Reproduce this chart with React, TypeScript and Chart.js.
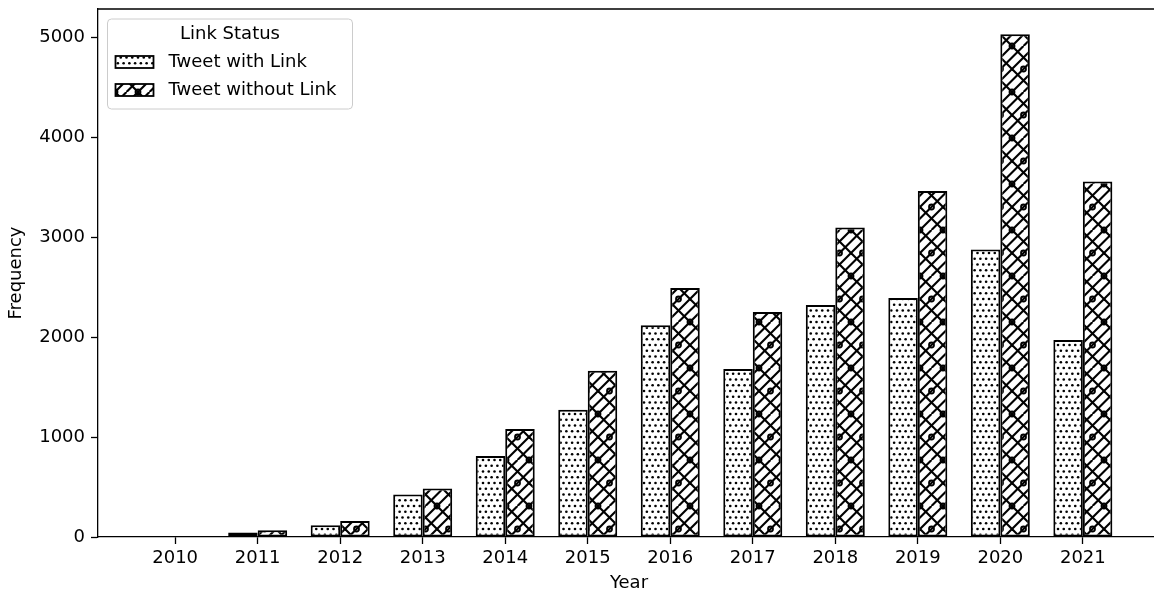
import React, { useEffect, useRef } from 'react';
import { Chart, registerables } from 'chart.js';

Chart.register(...registerables);

// Tweets per year, split by whether the tweet carries a link
const years = [2010, 2011, 2012, 2013, 2014, 2015, 2016, 2017, 2018, 2019, 2020, 2021];
const withLink = [9, 44, 117, 424, 810, 1274, 2117, 1680, 2320, 2390, 2877, 1970];
const withoutLink = [11, 67, 160, 484, 1080, 1664, 2490, 2250, 3097, 3460, 5030, 3557];
const yTicks = [0, 1000, 2000, 3000, 4000, 5000];
const seriesNames = ['Tweet with Link', 'Tweet without Link'];
const legendTitle = 'Link Status';
const xTitle = 'Year';
const yTitle = 'Frequency';

const FONT = "'DejaVu Sans', sans-serif";
const W = 1170;
const H = 597;

// Dense staggered dots on white
function makeDotPattern(ctx: CanvasRenderingContext2D): CanvasPattern {
  const size = 23;
  const c = document.createElement('canvas');
  c.width = size;
  c.height = size;
  const g = c.getContext('2d')!;
  g.fillStyle = '#fff';
  g.fillRect(0, 0, size, size);
  g.fillStyle = '#000';
  const step = size / 4;
  for (let r = 0; r <= 4; r++) {
    const y = r * step;
    const shift = r % 2 ? step / 2 : 0;
    for (let k = -1; k <= 5; k++) {
      const x = k * step + shift;
      g.beginPath();
      g.arc(x, y, 1.3, 0, Math.PI * 2);
      g.fill();
    }
  }
  return ctx.createPattern(c, 'repeat')!;
}

// Diagonal cross-hatch (denser "/" strokes) with small rings on white
function makeCrossPattern(ctx: CanvasRenderingContext2D): CanvasPattern {
  const w = 23;
  const h = 46;
  const c = document.createElement('canvas');
  c.width = w;
  c.height = h;
  const g = c.getContext('2d')!;
  g.fillStyle = '#fff';
  g.fillRect(0, 0, w, h);
  g.strokeStyle = '#000';
  g.lineWidth = 2.1;
  g.lineCap = 'butt';
  // "\" strokes
  for (let k = -3; k <= 2; k++) {
    g.beginPath();
    g.moveTo(k * w, 0);
    g.lineTo(k * w + h, h);
    g.stroke();
  }
  // "/" strokes at half spacing
  for (let k = 0; k <= 12; k++) {
    g.beginPath();
    g.moveTo(k * (w / 2), 0);
    g.lineTo(k * (w / 2) - h, h);
    g.stroke();
  }
  const rings = [
    [0, 0], [w, 0], [0, h], [w, h], [w / 2, h / 2],
  ];
  g.lineWidth = 1.8;
  for (const [x, y] of rings) {
    g.beginPath();
    g.arc(x, y, 2.5, 0, Math.PI * 2);
    g.stroke();
  }
  return ctx.createPattern(c, 'repeat')!;
}

const framePlugin = {
  id: 'frame',
  afterDatasetsDraw(chart: any) {
    const { ctx, chartArea } = chart;
    ctx.save();
    ctx.strokeStyle = '#000';
    ctx.lineWidth = 1.3;
    ctx.beginPath();
    ctx.moveTo(chartArea.left, chartArea.top);
    ctx.lineTo(chartArea.right, chartArea.top);
    ctx.lineTo(chartArea.right, chartArea.bottom);
    ctx.stroke();
    ctx.restore();
  },
};

const boxedLegend = {
  id: 'boxedLegend',
  afterDraw(chart: any) {
    const { ctx, chartArea } = chart;
    const x0 = chartArea.left + 9.5;
    const y0 = chartArea.top + 10;
    const bw = 245;
    const bh = 90;
    const r = 4;
    ctx.save();
    ctx.beginPath();
    ctx.moveTo(x0 + r, y0);
    ctx.lineTo(x0 + bw - r, y0);
    ctx.arcTo(x0 + bw, y0, x0 + bw, y0 + r, r);
    ctx.lineTo(x0 + bw, y0 + bh - r);
    ctx.arcTo(x0 + bw, y0 + bh, x0 + bw - r, y0 + bh, r);
    ctx.lineTo(x0 + r, y0 + bh);
    ctx.arcTo(x0, y0 + bh, x0, y0 + bh - r, r);
    ctx.lineTo(x0, y0 + r);
    ctx.arcTo(x0, y0, x0 + r, y0, r);
    ctx.closePath();
    ctx.fillStyle = 'rgba(255,255,255,0.8)';
    ctx.fill();
    ctx.strokeStyle = '#cccccc';
    ctx.lineWidth = 1;
    ctx.stroke();

    ctx.fillStyle = '#000';
    ctx.font = `18px ${FONT}`;
    ctx.textBaseline = 'middle';
    ctx.textAlign = 'center';
    ctx.fillText(legendTitle, x0 + bw / 2, y0 + 15);

    ctx.textAlign = 'left';
    chart.data.datasets.forEach((ds: any, i: number) => {
      const cy = y0 + 43 + i * 28;
      const sx = x0 + 8;
      const sw = 38;
      const sh = 12;
      ctx.fillStyle = ds.backgroundColor;
      ctx.fillRect(sx, cy - sh / 2, sw, sh);
      ctx.strokeStyle = '#000';
      ctx.lineWidth = 1.8;
      ctx.strokeRect(sx, cy - sh / 2, sw, sh);
      ctx.fillStyle = '#000';
      ctx.fillText(ds.label, x0 + 61, cy);
    });
    ctx.restore();
  },
};

export default function App() {
  const canvasRef = useRef<HTMLCanvasElement | null>(null);

  useEffect(() => {
    const canvas = canvasRef.current!;
    const ctx = canvas.getContext('2d')!;
    const dots = makeDotPattern(ctx);
    const cross = makeCrossPattern(ctx);

    Chart.defaults.color = '#000';
    Chart.defaults.font.family = FONT;
    Chart.defaults.font.size = 18;

    const noPad = (scale: any) => {
      scale.paddingTop = 0;
      scale.paddingBottom = 0;
      scale.paddingLeft = 0;
      scale.paddingRight = 0;
    };

    const chart = new Chart(ctx, {
      type: 'bar',
      data: {
        datasets: [
          {
            label: seriesNames[0],
            data: years.map((y, i) => ({ x: y, y: withLink[i] })),
            backgroundColor: dots as any,
            borderColor: '#000',
            borderWidth: 2,
            borderSkipped: false,
            categoryPercentage: 0.715,
            barPercentage: 1,
          },
          {
            label: seriesNames[1],
            data: years.map((y, i) => ({ x: y, y: withoutLink[i] })),
            backgroundColor: cross as any,
            borderColor: '#000',
            borderWidth: 2,
            borderSkipped: false,
            categoryPercentage: 0.715,
            barPercentage: 1,
          },
        ],
      },
      options: {
        animation: false,
        responsive: false,
        devicePixelRatio: 1,
        layout: { padding: { top: 9, right: 10, left: 0, bottom: 0 } },
        plugins: {
          legend: { display: false },
          tooltip: { enabled: false },
        },
        scales: {
          x: {
            type: 'linear',
            offset: false,
            min: 2009.065,
            max: 2021.935,
            afterBuildTicks: (scale: any) => {
              scale.ticks = years.map((v) => ({ value: v }));
            },
            afterFit: (scale: any) => {
              scale.height = 60;
              noPad(scale);
            },
            ticks: {
              callback: (v: any) => String(v),
              padding: 4,
              maxRotation: 0,
              autoSkip: false,
              font: { size: 18 },
              color: '#000',
            },
            grid: {
              offset: false,
              drawOnChartArea: false,
              drawTicks: true,
              tickLength: 7,
              tickColor: '#000',
              tickWidth: 1.3,
              color: '#000',
            },
            border: { display: true, color: '#000', width: 1.3 },
            title: {
              display: true,
              text: xTitle,
              font: { size: 18 },
              color: '#000',
              padding: { top: 0, bottom: 3 },
            },
          },
          y: {
            type: 'linear',
            min: 0,
            max: 5281.5,
            afterBuildTicks: (scale: any) => {
              scale.ticks = yTicks.map((v) => ({ value: v }));
            },
            afterFit: (scale: any) => {
              scale.width = 98;
              noPad(scale);
            },
            ticks: {
              callback: (v: any) => String(v),
              padding: 6,
              font: { size: 18 },
              color: '#000',
            },
            grid: {
              drawOnChartArea: false,
              drawTicks: true,
              tickLength: 7,
              tickColor: '#000',
              tickWidth: 1.3,
              color: '#000',
            },
            border: { display: true, color: '#000', width: 1.3 },
            title: {
              display: true,
              text: yTitle,
              font: { size: 18 },
              color: '#000',
              padding: { top: 6, bottom: 0 },
            },
          },
        },
      },
      plugins: [framePlugin, boxedLegend],
    });

    return () => chart.destroy();
  }, []);

  return (
    <div
      style={{
        position: 'fixed',
        left: 0,
        top: 0,
        width: W,
        height: H,
        background: '#fff',
      }}
    >
      <canvas ref={canvasRef} width={W} height={H} style={{ width: W, height: H, display: 'block' }} />
    </div>
  );
}
